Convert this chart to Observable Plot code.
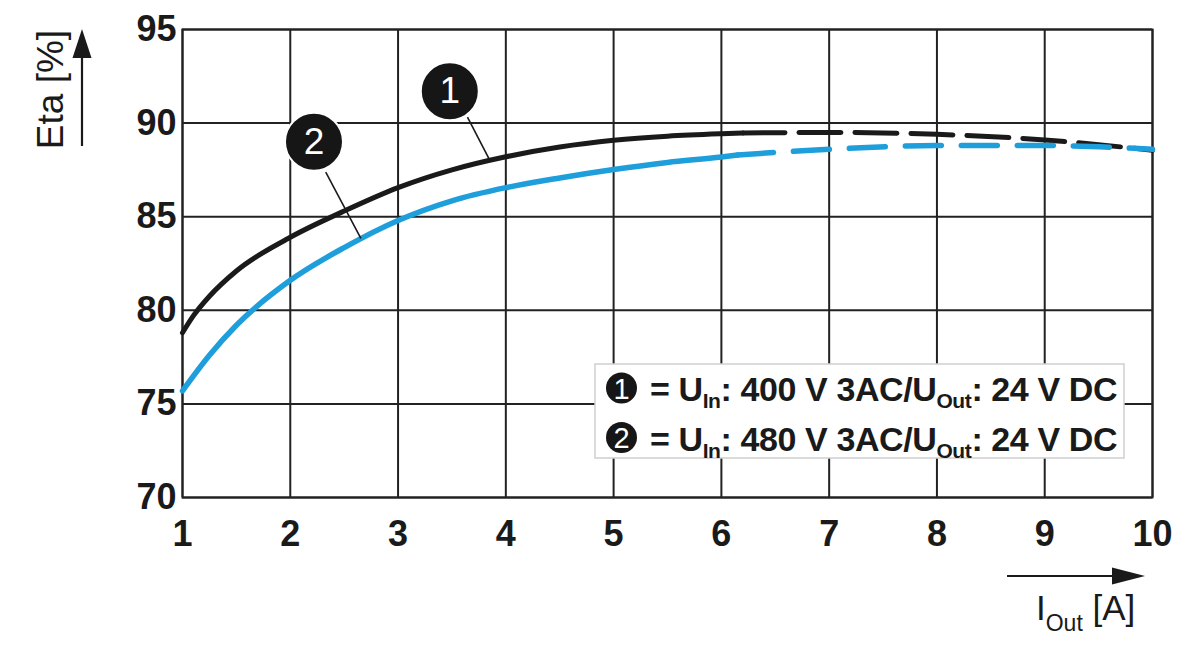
<!DOCTYPE html>
<html>
<head>
<meta charset="utf-8">
<script src="https://cdn.jsdelivr.net/npm/d3@7"></script>
<script src="https://cdn.jsdelivr.net/npm/@observablehq/plot@0.6"></script>
<style>
  body { margin: 0; background: #fff; }
  #chart svg { display: block; }
</style>
</head>
<body>
<div id="chart"></div>
<script>
const FONT = "'Liberation Sans', Arial, Helvetica, sans-serif"

// curve 1: U_In 400 V 3AC (black), solid part then dashed part
const iOut1 = [1, 1.1, 1.25, 1.5, 2, 2.5, 3, 3.5, 4, 4.5, 5, 5.5, 6, 6.2]
const eta1 = [78.8, 79.7, 80.75, 82.1, 83.9, 85.3, 86.55, 87.5, 88.2, 88.72, 89.08, 89.3, 89.43, 89.47]
const iOut1Dash = [6.2, 7, 8, 9, 10]
const eta1Dash = [89.47, 89.5, 89.4, 89.1, 88.55]

// curve 2: U_In 480 V 3AC (blue)
const iOut2 = [1, 1.25, 1.5, 2, 2.5, 3, 3.5, 4, 4.5, 5, 5.5, 6, 6.15]
const eta2 = [75.7, 77.6, 79.2, 81.6, 83.35, 84.8, 85.85, 86.55, 87.07, 87.52, 87.9, 88.19, 88.3]
const iOut2Dash = [6.15, 7, 8, 9, 10]
const eta2Dash = [88.3, 88.6, 88.8, 88.8, 88.6]

const xTicks = [1, 2, 3, 4, 5, 6, 7, 8, 9, 10]
const yTicks = [70, 75, 80, 85, 90, 95]

// numbered callouts and their leader lines (data coordinates)
const calloutLabels = ["1", "2"]
const calloutX = [3.48, 2.22]
const calloutY = [91.7, 89.0]
const leaderX1 = [3.644, 2.329]
const leaderY1 = [90.32, 87.38]
const leaderX2 = [3.853, 2.655]
const leaderY2 = [88.0, 83.84]

const legendInputs = ["400 V 3AC", "480 V 3AC"]
const legendOutput = "24 V DC"

const BLACK = "#1a1a1a"
const BLUE = "#1e9fdb"

const pts = (xs, ys) => xs.map((x, i) => ({x, y: ys[i]}))
const callouts = calloutLabels.map((t, i) => ({t, x: calloutX[i], y: calloutY[i]}))
const leaders = calloutLabels.map((t, i) => ({x1: leaderX1[i], y1: leaderY1[i], x2: leaderX2[i], y2: leaderY2[i]}))

let chart = Plot.plot({
  width: 1200,
  height: 656,
  marginLeft: 182,
  marginRight: 48,
  marginTop: 29,
  marginBottom: 159,
  x: {domain: [1, 10]},
  y: {domain: [70, 95]},
  style: {fontFamily: FONT, color: BLACK, background: "white"},
  marks: [
    Plot.gridX(xTicks, {stroke: "#222", strokeOpacity: 1, strokeWidth: 2}),
    Plot.gridY(yTicks, {stroke: "#222", strokeOpacity: 1, strokeWidth: 2}),
    Plot.frame({stroke: "#222", strokeWidth: 2}),
    Plot.axisX(xTicks, {tickSize: 0, tickPadding: 23, fontSize: 36, fontWeight: "bold", label: null}),
    Plot.axisY(yTicks, {tickSize: 0, tickPadding: 6, fontSize: 36, fontWeight: "bold", label: null}),
    Plot.line(pts(iOut1, eta1), {x: "x", y: "y", stroke: BLACK, strokeWidth: 5, curve: "monotone-x"}),
    Plot.line(pts(iOut1Dash, eta1Dash), {x: "x", y: "y", stroke: BLACK, strokeWidth: 5, curve: "monotone-x", strokeDasharray: "42,14"}),
    Plot.line(pts(iOut2, eta2), {x: "x", y: "y", stroke: BLUE, strokeWidth: 5.5, curve: "monotone-x"}),
    Plot.line(pts(iOut2Dash, eta2Dash), {x: "x", y: "y", stroke: BLUE, strokeWidth: 5.5, curve: "monotone-x", strokeDasharray: "36,20", strokeLinecap: "round"}),
    Plot.link(leaders, {x1: "x1", y1: "y1", x2: "x2", y2: "y2", stroke: BLACK, strokeWidth: 1.6}),
    Plot.dot(callouts, {x: "x", y: "y", r: 29, fill: "#161616", stroke: "white", strokeWidth: 2}),
    Plot.text(callouts, {x: "x", y: "y", text: "t", fill: "white", fontSize: 37}),
    Plot.text(["Eta [%]"], {text: d => d, frameAnchor: "top-left", dx: -120, dy: 60, rotate: -90,
      textAnchor: "middle", lineAnchor: "bottom", fontSize: 37})
  ]
})

const svg = d3.select(chart)

// axis arrows
const ann = svg.append("g").attr("fill", BLACK).attr("stroke", BLACK)
ann.append("line").attr("x1", 82).attr("x2", 82).attr("y1", 146).attr("y2", 55).attr("stroke-width", 2.2)
ann.append("path").attr("stroke", "none").attr("d", "M72.5,58L82,29L91.5,58Z")
ann.append("line").attr("x1", 1007).attr("x2", 1115).attr("y1", 576).attr("y2", 576).attr("stroke-width", 2.2)
ann.append("path").attr("stroke", "none").attr("d", "M1112,567.5L1145,576L1112,584.5Z")

// x axis label with subscript
const xl = svg.append("text").attr("x", 1036).attr("y", 620).attr("font-size", 35)
  .attr("text-anchor", "start").attr("fill", BLACK)
xl.append("tspan").text("I")
xl.append("tspan").attr("font-size", 23).attr("dy", 11).text("Out")
xl.append("tspan").attr("dy", -11).text(" [A]")

// legend box
const lg = svg.append("g")
lg.append("rect").attr("x", 595).attr("y", 364).attr("width", 529).attr("height", 94)
  .attr("fill", "white").attr("stroke", "#cfcfcf").attr("stroke-width", 1.5)
legendInputs.forEach((inp, i) => {
  const base = 401 + i * 49.5
  lg.append("circle").attr("cx", 621.5).attr("cy", base - 13).attr("r", 15.5).attr("fill", "#161616")
  lg.append("text").attr("x", 621.5).attr("y", base - 2.5).attr("text-anchor", "middle")
    .attr("font-size", 29).attr("fill", "white").text(calloutLabels[i])
  const t = lg.append("text").attr("x", 650).attr("y", base).attr("font-size", 34)
    .attr("text-anchor", "start").attr("font-weight", "bold").attr("letter-spacing", "-0.4").attr("fill", BLACK)
  t.append("tspan").text("= U")
  t.append("tspan").attr("font-size", 21).attr("dy", 7).text("In")
  t.append("tspan").attr("dy", -7).text(": " + inp + "/U")
  t.append("tspan").attr("font-size", 21).attr("dy", 7).text("Out")
  t.append("tspan").attr("dy", -7).text(": " + legendOutput)
})

d3.select("#chart").append(() => chart)
</script>
</body>
</html>
